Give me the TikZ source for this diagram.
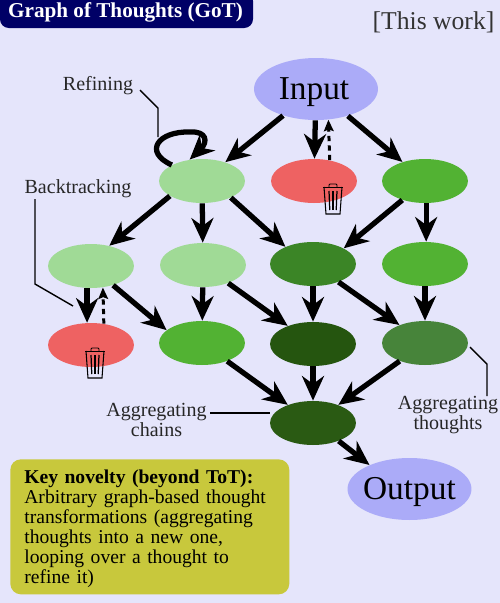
\documentclass[tikz,border=0pt]{standalone}
\usepackage{fontspec}
\setmainfont{Liberation Serif}
\usetikzlibrary{
  arrows.meta,
  shapes.geometric
}
\definecolor{bgcol}{HTML}{E5E5FB}
\definecolor{navycol}{HTML}{000066}
\definecolor{endcol}{HTML}{ABABF8}
\definecolor{palecol}{HTML}{A0DA96}
\definecolor{redcol}{HTML}{EE6262}
\definecolor{midcol}{HTML}{52B233}
\definecolor{deepcol}{HTML}{3B8526}
\definecolor{darkcol}{HTML}{25550F}
\definecolor{greycol}{HTML}{47843A}
\definecolor{aggcol}{HTML}{2A5A13}
\definecolor{keycol}{HTML}{C8C83C}
\begin{document}
\begin{tikzpicture}[
  x=0.02cm, y=-0.02cm,
  thought/.style={ellipse, fill=#1, inner sep=0pt, minimum width=1.72cm, minimum height=0.88cm},
  endpt/.style={ellipse, fill=endcol, inner sep=0pt, minimum width=2.48cm, minimum height=1.24cm},
  bigtext/.style={inner sep=0pt, font=\fontsize{19}{21}\selectfont},
  flow/.style={-{Stealth[length=14pt, width=12.5pt, inset=4.5pt]}, line width=3pt},
  back/.style={-{Stealth[length=6.5pt, width=5.5pt, inset=1pt]}, line width=1.7pt, dash pattern=on 3pt off 2.4pt},
  lead/.style={line width=0.8pt},
  tag/.style={align=center, inner sep=0pt, text=black!85, font=\fontsize{11.4}{11.9}\selectfont},
  trash/.pic={
    \draw[line width=0.5pt] (-10,-11) -- (10,-11);
    \draw[line width=0.5pt, rounded corners=0.5pt] (-4,-11) -- (-4,-14) -- (4,-14) -- (4,-11);
    \draw[line width=0.6pt] (-9,-11) -- (-7,16) -- (7,16) -- (9,-11);
    \foreach \xpos in {-4,0,4} \draw[line width=0.7pt] (\xpos,-7) -- (\xpos*0.8,12);
  }
]
  % Background
  \path[use as bounding box, fill=bgcol] (0,0) rectangle (500,603);

  % Title
  \fill[navycol, rounded corners=5pt] (0,-8) rectangle (253,28);
  \node[inner sep=0pt, text=white, font=\fontsize{12.05}{12.5}\selectfont\bfseries] (title) at (125.5,12) {Graph of Thoughts (GoT)};
  \node[inner sep=0pt, text=black!80, font=\fontsize{14.6}{15}\selectfont] (work) at (433.5,22) {[This work]};

  % Input and output
  \node[endpt] (input) at (316,89) {};
  \node[endpt] (output) at (409.5,489) {};
  \node[bigtext] (inputtext) at (314,92) {Input};
  \node[bigtext] (outputtext) at (409.5,492) {Output};

  % Layer 1
  \node[thought=palecol] (refine) at (202,181) {};
  \node[thought=redcol] (dropa) at (314,181) {};
  \node[thought=midcol] (righta) at (425,181) {};

  % Layer 2
  \node[thought=palecol] (leftb) at (91,266) {};
  \node[thought=palecol] (midb) at (203,265) {};
  \node[thought=deepcol] (joinb) at (313,264) {};
  \node[thought=midcol] (rightb) at (425,264) {};

  % Layer 3
  \node[thought=redcol] (dropb) at (91,345) {};
  \node[thought=midcol] (midc) at (202,343) {};
  \node[thought=darkcol] (joinc) at (313,344) {};
  \node[thought=greycol] (rightc) at (425,343) {};

  % Layer 4
  \node[thought=aggcol] (agg) at (313,423) {};

  % Bins
  \pic at (333,198) {trash};
  \pic at (95,362) {trash};

  % Edges
  \draw[flow] (input) -- (refine);
  \draw[flow] (input) -- (dropa);
  \draw[flow] (input) -- (righta);
  \draw[flow] (refine.-155) -- (leftb.48);
  \draw[flow] (refine) -- (midb);
  \draw[flow] (refine.-30) -- (joinb.148);
  \draw[flow] (righta.-140) -- (joinb.27);
  \draw[flow] (righta.-87) -- (rightb.87);
  \draw[flow] (leftb.-100) -- (dropb.100);
  \draw[flow] (leftb.-41) -- (midc.160);
  \draw[flow] (midb) -- (midc);
  \draw[flow] (midb) -- (joinc);
  \draw[flow] (joinb) -- (joinc);
  \draw[flow] (joinb) -- (rightc);
  \draw[flow] (rightb) -- (rightc);
  \draw[flow] (midc) -- (agg);
  \draw[flow] (joinc) -- (agg);
  \draw[flow] (rightc) -- (agg);
  \draw[flow] (agg.-35) -- (output.149);
  \draw[back] (dropa.53) -- (input.-68);
  \draw[back] (dropb.59) -- (leftb.-61);

  % Loop
  \draw[flow] (refine.152) .. controls (143,152) and (158,131) .. (190,132) .. controls (207,131) and (208,142) .. (refine.120);

  % Labels
  \node[tag] (refinetag) at (98,86) {Refining};
  \node[tag] (backtag) at (78,189) {Backtracking};
  \node[tag] (chaintag) at (156.5,420) {Aggregating\\chains};
  \node[tag] (thoughttag) at (448,415) {Aggregating\\thoughts};

  % Leader lines
  \coordinate (refinefrom) at (140,90);
  \coordinate (refineto) at (158,137);
  \coordinate (backfrom) at (35,199);
  \coordinate (backto) at (73,306);
  \coordinate (chainfrom) at (210,413);
  \coordinate (chainto) at (270,413);
  \coordinate (thoughtfrom) at (470,347);
  \coordinate (thoughtto) at (487,396);
  \draw[lead] (refinefrom) -- (158,108) -- (refineto);
  \draw[lead] (backfrom) -- (35,284) -- (backto);
  \draw[lead] (chainfrom) -- (chainto);
  \draw[lead] (thoughtfrom) -- (487,364) -- (thoughtto);

  % Key box
  \node[fill=keycol, rounded corners=6pt, minimum width=5.58cm, minimum height=2.7cm, text width=5.02cm, align=left, inner sep=0pt, font=\fontsize{11.15}{11.34}\selectfont, anchor=north west] (key) at (10,459) {\rule{0pt}{10pt}\textbf{Key novelty (beyond ToT):}\\Arbitrary graph-based thought\\transformations (aggregating\\thoughts into a new one,\\looping over a thought to\\refine it)};
\end{tikzpicture}
\end{document}
